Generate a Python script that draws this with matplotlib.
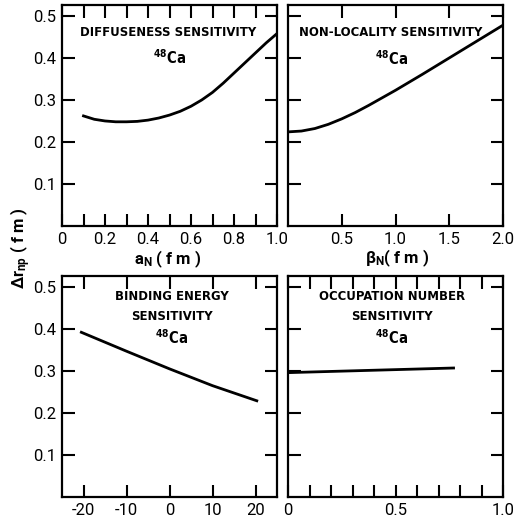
import matplotlib
matplotlib.use("Agg")
import matplotlib.pyplot as plt
from matplotlib import font_manager as fm
from matplotlib.ticker import FixedLocator

# ---- data: neutron-skin thickness vs. model parameter, 48Ca ----
diff_a = [0.1, 0.15, 0.2, 0.25, 0.3, 0.35, 0.4, 0.45, 0.5, 0.55,
          0.6, 0.65, 0.7, 0.75, 0.8, 0.85, 0.9, 0.95, 1.0]
diff_r = [0.262, 0.254, 0.250, 0.248, 0.248, 0.249, 0.252, 0.257, 0.264,
          0.273, 0.285, 0.300, 0.318, 0.340, 0.364, 0.388, 0.412, 0.436, 0.458]

nonloc_b = [0.0, 0.125, 0.25, 0.375, 0.5, 0.625, 0.75, 0.875, 1.0,
            1.25, 1.5, 1.75, 2.0]
nonloc_r = [0.224, 0.226, 0.232, 0.242, 0.255, 0.270, 0.287, 0.305, 0.323,
            0.361, 0.400, 0.439, 0.478]

bind_e = [-20.5, -10, 0, 10, 20.3]
bind_r = [0.392, 0.347, 0.305, 0.265, 0.229]

occ_n = [0.0, 0.77]
occ_r = [0.296, 0.307]

y_ticks = [0.1, 0.2, 0.3, 0.4, 0.5]
y_ticklabels = ["0.1", "0.2", "0.3", "0.4", "0.5"]

W, H = 514, 521
fig = plt.figure(figsize=(W / 100, H / 100), dpi=100)
fig.patch.set_facecolor("white")

# pick a narrow bold face for the panel captions if one is installed
narrow = None
for f in fm.fontManager.ttflist:
    if ("Narrow" in f.name or "Condensed" in f.name
            or f.stretch in ("condensed", "semi-condensed")):
        narrow = f.name
        break

if narrow is not None:
    TITLE_FONT = dict(family=narrow, weight="bold", size=9.4,
                      stretch="condensed")
else:
    TITLE_FONT = dict(family="DejaVu Sans", weight="bold", size=8.6)
ISO_FONT = dict(TITLE_FONT, size=TITLE_FONT["size"] + 1.2)

TICK_FONT = dict(family="Roboto", size=12)


def make_axes(x0, y0, x1, y1):
    ax = fig.add_axes([x0 / W, 1 - y1 / H, (x1 - x0) / W, (y1 - y0) / H])
    for s in ax.spines.values():
        s.set_linewidth(1.6)
    ax.tick_params(which="both", direction="in", top=True, right=True,
                   length=9, width=1.5, pad=4)
    ax.set_ylim(0, 0.526)
    ax.yaxis.set_major_locator(FixedLocator(y_ticks))
    return ax


def set_xticks(ax, ticks, labels, minor=None):
    ax.set_xticks(ticks)
    ax.set_xticklabels(labels, **TICK_FONT)
    if minor is not None:
        ax.xaxis.set_minor_locator(FixedLocator(minor))
        ax.tick_params(which="minor", length=9, width=1.5)


def fig_text(x, y, s, **kw):
    fig.text(x / W, 1 - y / H, s, ha="center", va="center", **kw)


# top-left: diffuseness
ax1 = make_axes(62, 5, 277, 226)
ax1.plot(diff_a, diff_r, color="black", lw=2.0)
ax1.set_xlim(0, 1.0)
set_xticks(ax1, [0, 0.2, 0.4, 0.6, 0.8, 1.0],
           ["0", "0.2", "0.4", "0.6", "0.8", "1.0"],
           minor=[0.1, 0.3, 0.5, 0.7, 0.9])
ax1.set_yticklabels(y_ticklabels, **TICK_FONT)

# top-right: non-locality
ax2 = make_axes(288, 5, 503, 226)
ax2.plot(nonloc_b, nonloc_r, color="black", lw=2.0)
ax2.set_xlim(0, 2.0)
set_xticks(ax2, [0.5, 1.0, 1.5, 2.0], ["0.5", "1.0", "1.5", "2.0"])
ax2.set_yticklabels([])

# bottom-left: binding energy
ax3 = make_axes(62, 276, 277, 497)
ax3.plot(bind_e, bind_r, color="black", lw=2.0)
ax3.set_xlim(-25, 25)
set_xticks(ax3, [-20, -10, 0, 10, 20], ["-20", "-10", "0", "10", "20"])
ax3.set_yticklabels(y_ticklabels, **TICK_FONT)

# bottom-right: occupation number
ax4 = make_axes(288, 276, 503, 497)
ax4.plot(occ_n, occ_r, color="black", lw=2.0)
ax4.set_xlim(0, 1.0)
set_xticks(ax4, [0, 0.5, 1.0], ["0", "0.5", "1.0"],
           minor=[0.1, 0.2, 0.3, 0.4, 0.6, 0.7, 0.8, 0.9])
ax4.set_yticklabels([])

# panel captions
iso = r"$\mathregular{^{48}}$Ca"
fig_text(168, 32, "DIFFUSENESS SENSITIVITY", **TITLE_FONT)
fig_text(170, 58, iso, **ISO_FONT)
fig_text(391, 32, "NON-LOCALITY SENSITIVITY", **TITLE_FONT)
fig_text(392, 59, iso, **ISO_FONT)
fig_text(172, 297, "BINDING ENERGY", **TITLE_FONT)
fig_text(172, 316, "SENSITIVITY", **TITLE_FONT)
fig_text(172, 338, iso, **ISO_FONT)
fig_text(392, 297, "OCCUPATION NUMBER", **TITLE_FONT)
fig_text(392, 316, "SENSITIVITY", **TITLE_FONT)
fig_text(392, 338, iso, **ISO_FONT)

# axis labels
lab = dict(family="Roboto", size=12, weight="bold")
fig_text(168, 259, r"$\mathregular{a_N}$ ( f m )", **lab)
fig_text(397, 258, r"$\mathregular{\beta_N}$( f m )", **lab)
fig_text(21, 248, r"$\mathregular{\Delta r_{np}}$ ( f m )", rotation=90, **lab)

fig.savefig("out.png", dpi=100, facecolor="white")
